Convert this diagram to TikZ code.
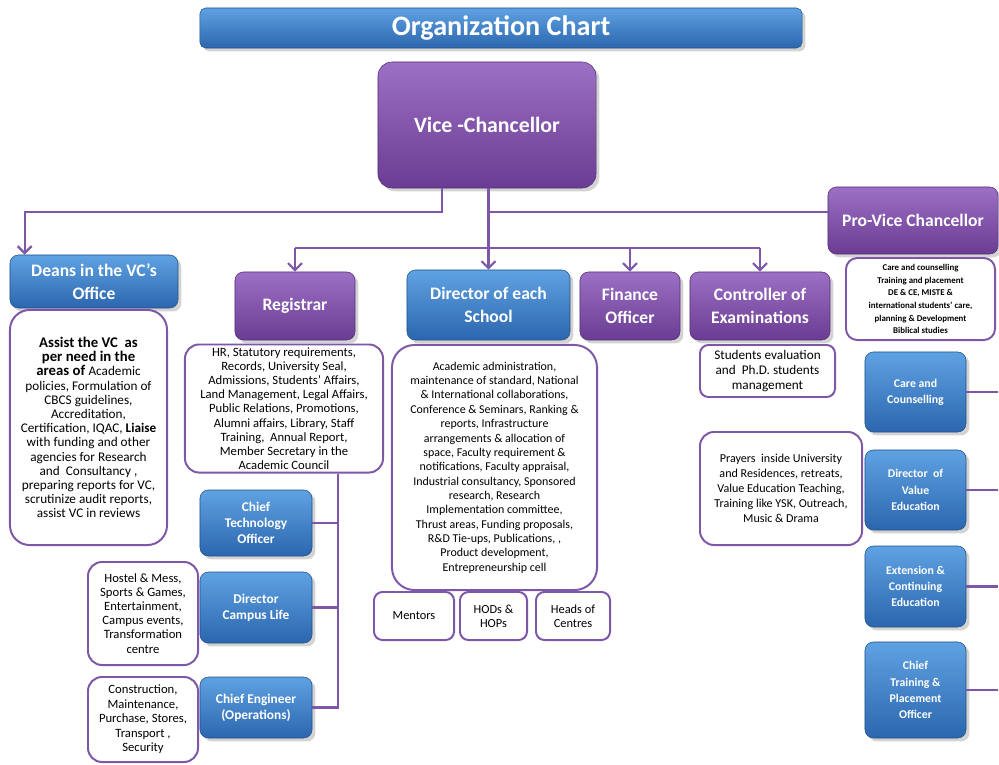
\documentclass[tikz,border=0pt]{standalone}
\usepackage{fontspec}
\setmainfont{Carlito}
\usepackage{tikz}
\usetikzlibrary{arrows.meta,positioning,shadows}

\definecolor{purpletop}{HTML}{9C70C4}
\definecolor{purplebot}{HTML}{6A3C93}
\definecolor{bluetop}{HTML}{5FA2E2}
\definecolor{bluebot}{HTML}{2B66AE}
\definecolor{linepurple}{HTML}{7E57A8}

\newcommand{\deanbig}{\bfseries\fontsize{10.5}{12.8}\selectfont}
\newcommand{\deansmall}{\mdseries\fontsize{9.4}{9.7}\selectfont}

\begin{document}
\begin{tikzpicture}[
    x=0.025cm, y=-0.025cm,
    >={Straight Barb[length=5pt,width=10pt,line width=1.6pt]},
    font=\fontsize{9}{10.1}\selectfont,
    pbox/.style={
		rectangle,
		rounded corners=6pt,
		top color=purpletop, bottom color=purplebot,
		draw=purplebot!80!black, line width=0.4pt,
		text=white, align=center,
		font=\bfseries\fontsize{12.5}{16}\selectfont,
		drop shadow={opacity=0.35}
	},
    bbox/.style={
		rectangle,
		rounded corners=6pt,
		top color=bluetop, bottom color=bluebot,
		draw=bluebot!80!black, line width=0.4pt,
		text=white, align=center,
		font=\bfseries\fontsize{12.5}{16}\selectfont,
		drop shadow={opacity=0.35}
	},
    sbox/.style={
		bbox,
		font=\bfseries\fontsize{8.4}{11.5}\selectfont
	},
    lbox/.style={
		bbox,
		font=\bfseries\fontsize{9.5}{11.4}\selectfont
	},
    tbox/.style={
		rectangle,
		rounded corners=10pt,
		draw=linepurple, line width=1.4pt,
		fill=white, align=center,
		inner sep=2pt
	},
    conn/.style={
		draw=linepurple, line width=1.6pt
	}
  ]
  \useasboundingbox (0,0) rectangle (999,764);

  % heading and top levels
  \node [bbox, minimum width=15.05cm, minimum height=1.0cm, rounded corners=4pt,
         font=\bfseries\fontsize{20}{22}\selectfont] (title) at (501,28) {Organization Chart};
  \node [pbox, minimum width=5.45cm, minimum height=3.15cm, rounded corners=10pt,
         font=\bfseries\fontsize{15.5}{18}\selectfont] (vc) at (487,125) {Vice -Chancellor};
  \node [pbox, minimum width=4.25cm, minimum height=1.675cm] (provc) at (913,220.5) {Pro-Vice Chancellor};
  \node [bbox, minimum width=4.2cm, minimum height=1.325cm] (deans) at (94,281.5) {Deans in the VC's\\Office};

  \node [pbox, minimum width=3.0cm, minimum height=1.7cm] (registrar) at (295,306) {Registrar};
  \node [bbox, minimum width=4.075cm, minimum height=1.75cm] (director) at (488.5,305) {Director of each\\School};
  \node [pbox, minimum width=2.5cm, minimum height=1.7cm] (finance) at (630,306) {Finance\\Officer};
  \node [pbox, minimum width=3.5cm, minimum height=1.7cm] (controller) at (760,306) {Controller of\\Examinations};

  % duty boxes
  \node [tbox, minimum width=3.925cm, minimum height=5.875cm, rounded corners=14pt] (deanstxt) at (88.5,427.5)
  {%
  \deanbig Assist the VC\ \ as\\\deanbig per need in the\\\deanbig areas of \deansmall Academic\\
  \deansmall policies, Formulation of\\\deansmall CBCS guidelines,\\\deansmall Accreditation,\\
  \deansmall Certification, IQAC, \textbf{Liaise}\\\deansmall with funding and other\\
  \deansmall agencies for Research\\\deansmall and\ \ Consultancy ,\\\deansmall preparing reports for VC,\\
  \deansmall scrutinize audit reports,\\\deansmall assist VC in reviews
  };

  \node [tbox, minimum width=4.95cm, minimum height=3.175cm] (regtxt) at (284,408.5)
  {%
  HR, Statutory requirements,\\Records, University Seal,\\Admissions, Students' Affairs,\\
  Land Management, Legal Affairs,\\Public Relations, Promotions,\\Alumni affairs, Library, Staff\\
  Training,\ \ Annual Report,\\Member Secretary in the\\Academic Council
  };

  \node [tbox, minimum width=5.125cm, minimum height=6.125cm, rounded corners=16pt,
         font=\fontsize{8.5}{10.2}\selectfont] (dirtxt) at (494.5,467.5)
  {%
  Academic administration,\\maintenance of standard, National\\\& International collaborations,\\
  Conference \& Seminars, Ranking \&\\reports, Infrastructure\\arrangements \& allocation of\\
  space, Faculty requirement \&\\notifications, Faculty appraisal,\\Industrial consultancy, Sponsored\\
  research, Research\\Implementation committee,\\Thrust areas, Funding proposals,\\
  R\&D Tie-ups, Publications, ,\\Product development,\\Entrepreneurship cell
  };

  \node [tbox, minimum width=2.0cm, minimum height=1.2cm, rounded corners=6pt,
         font=\fontsize{8.8}{10.2}\selectfont] (mentors) at (414,616) {Mentors};
  \node [tbox, minimum width=1.675cm, minimum height=1.2cm, rounded corners=6pt,
         font=\fontsize{8.8}{10.2}\selectfont] (hods) at (493.5,616) {HODs \&\\HOPs};
  \node [tbox, minimum width=1.85cm, minimum height=1.2cm, rounded corners=6pt,
         font=\fontsize{8.8}{10.2}\selectfont] (heads) at (573,616) {Heads of\\Centres};

  \node [tbox, minimum width=3.375cm, minimum height=1.3cm, rounded corners=6pt,
         font=\fontsize{9.4}{10.7}\selectfont] (ctrltxt) at (767.5,371)
  {Students evaluation\\and\ \ Ph.D. students\\management};

  \node [tbox, minimum width=4.05cm, minimum height=2.825cm,
         font=\fontsize{8.6}{10.7}\selectfont] (prayers) at (781,488.5)
  {%
  Prayers\ \ inside University\\and Residences, retreats,\\Value Education Teaching,\\
  Training like YSK, Outreach,\\Music \& Drama
  };

  \node [tbox, minimum width=3.725cm, minimum height=2.05cm, rounded corners=8pt,
         font=\bfseries\fontsize{6.3}{9}\selectfont] (provctxt) at (920.5,299)
  {%
  Care and counselling\\Training and placement\\DE \& CE, MISTE \&\\
  international students' care,\\planning \& Development\\Biblical studies
  };

  % Pro-VC column
  \node [sbox, minimum width=2.525cm, minimum height=2.0cm] (care) at (915.5,392) {Care and\\Counselling};
  \node [sbox, minimum width=2.525cm, minimum height=2.0cm] (valueed) at (915.5,490) {Director\ \ of\\Value\\Education};
  \node [sbox, minimum width=2.525cm, minimum height=2.025cm] (extension) at (915.5,586.5) {Extension \&\\Continuing\\Education};
  \node [sbox, minimum width=2.525cm, minimum height=2.4cm] (training) at (915.5,690) {Chief\\Training \&\\Placement\\Officer};

  % Registrar column
  \node [lbox, minimum width=2.8cm, minimum height=1.65cm] (cto) at (256,523) {Chief\\Technology\\Officer};
  \node [lbox, minimum width=2.8cm, minimum height=1.775cm] (campus) at (256,607.5) {Director\\Campus Life};
  \node [lbox, minimum width=2.8cm, minimum height=1.525cm] (engineer) at (256,707.5) {Chief Engineer\\(Operations)};

  \node [tbox, minimum width=2.75cm, minimum height=2.575cm, font=\fontsize{9}{10}\selectfont] (hostel) at (143,613.5)
  {Hostel \& Mess,\\Sports \& Games,\\Entertainment,\\Campus events,\\Transformation\\centre};
  \node [tbox, minimum width=2.75cm, minimum height=2.125cm, font=\fontsize{9}{10.3}\selectfont] (construction) at (143,719.5)
  {Construction,\\Maintenance,\\Purchase, Stores,\\Transport ,\\Security};

  % connectors
  \coordinate (j1) at (442,212);
  \coordinate (bus) at (0,248);
  \coordinate (rl) at (338,0);
  \coordinate (redge) at (998,0);

  \draw [conn,->] (vc.south -| j1) -- (j1) -| ([xshift=0.375cm]deans.north west);
  \draw [conn,->] (vc.south -| director.north) -- (director.north);
  \draw [conn] (director.north |- j1) -- (j1 -| provc.west);
  \draw [conn] (registrar.north |- bus) -- (controller.north |- bus);
  \draw [conn,->] (registrar.north |- bus) -- (registrar.north);
  \draw [conn,->] (finance.north |- bus) -- (finance.north);
  \draw [conn,->] (controller.north |- bus) -- (controller.north);

  \draw [conn] (regtxt.south -| rl) -- (engineer.east -| rl) -- (engineer.east);
  \draw [conn] (cto.east -| rl) -- (cto.east);
  \draw [conn] (campus.east -| rl) -- (campus.east);

  \draw [conn] (care.east) -- (care.east -| redge);
  \draw [conn] (valueed.east) -- (valueed.east -| redge);
  \draw [conn] (extension.east) -- (extension.east -| redge);
  \draw [conn] (training.east) -- (training.east -| redge);

\end{tikzpicture}
\end{document}
